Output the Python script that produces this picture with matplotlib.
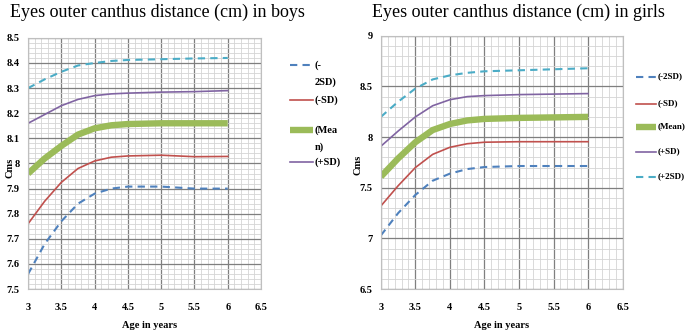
import numpy as np
import matplotlib
matplotlib.use("Agg")
import matplotlib.pyplot as plt
from matplotlib.lines import Line2D
from matplotlib.ticker import MultipleLocator

plt.rcParams['font.family'] = ['Liberation Serif', 'DejaVu Serif']

# ---------------- data ----------------
age = [3, 3.25, 3.5, 3.75, 4, 4.25, 4.5, 5, 5.5, 6]

boys_p2sd = [8.30, 8.335, 8.365, 8.39, 8.40, 8.408, 8.412, 8.415, 8.418, 8.42]
boys_psd = [8.16, 8.195, 8.23, 8.255, 8.27, 8.277, 8.28, 8.284, 8.286, 8.29]
boys_mean = [7.96, 8.02, 8.07, 8.115, 8.14, 8.152, 8.157, 8.16, 8.16, 8.16]
boys_msd = [7.76, 7.85, 7.925, 7.98, 8.01, 8.025, 8.03, 8.033, 8.027, 8.028]
boys_m2sd = [7.56, 7.68, 7.77, 7.84, 7.88, 7.90, 7.908, 7.908, 7.90, 7.90]

girls_p2sd = [8.20, 8.35, 8.48, 8.57, 8.61, 8.635, 8.65, 8.66, 8.67, 8.68]
girls_psd = [7.91, 8.06, 8.20, 8.31, 8.37, 8.40, 8.41, 8.42, 8.425, 8.43]
girls_mean = [7.61, 7.79, 7.95, 8.07, 8.13, 8.165, 8.18, 8.19, 8.195, 8.20]
girls_msd = [7.32, 7.52, 7.70, 7.83, 7.90, 7.935, 7.95, 7.955, 7.955, 7.955]
girls_m2sd = [7.03, 7.25, 7.43, 7.57, 7.64, 7.685, 7.705, 7.715, 7.715, 7.715]

boys_labels = ["(-\n2SD)", "(-SD)", "(Mea\nn)", "(+SD)"]
girls_labels = ["(-2SD)", "(-SD)", "(Mean)", "(+SD)", "(+2SD)"]

# colours / styles
C_M2 = "#4F81BD"
C_M1 = "#C0504D"
C_MEAN = "#9BBB59"
C_P1 = "#8064A2"
C_P2 = "#4BACC6"
styles = {
    "m2": dict(color=C_M2, lw=1.5, ls=(0, (3.5, 2.5))),
    "m1": dict(color=C_M1, lw=1.2, ls="-"),
    "mean": dict(color=C_MEAN, lw=4.6, ls="-", solid_capstyle="butt"),
    "p1": dict(color=C_P1, lw=1.2, ls="-"),
    "p2": dict(color=C_P2, lw=1.5, ls=(0, (3.5, 2.5))),
}

fig = plt.figure(figsize=(6.85, 3.35), dpi=100)


def setup(ax, ylo, yhi, ymaj, ymin):
    ax.set_xlim(3, 6.5)
    ax.set_ylim(ylo, yhi)
    ax.xaxis.set_major_locator(MultipleLocator(0.5))
    ax.xaxis.set_minor_locator(MultipleLocator(0.1))
    ax.yaxis.set_major_locator(MultipleLocator(ymaj))
    ax.yaxis.set_minor_locator(MultipleLocator(ymin))
    ax.grid(which="minor", color="#d4d4d4", lw=0.6)
    ax.grid(which="major", color="#7f7f7f", lw=0.9)
    ax.set_axisbelow(True)
    for s in ax.spines.values():
        s.set_color("#bfbfbf")
        s.set_linewidth(0.8)
    ax.tick_params(axis="x", which="both", length=0, labelsize=7.5, pad=10)
    ax.tick_params(axis="y", which="both", length=0, labelsize=7.5, pad=6)


def fmt(v):
    s = ("%.1f" % v).rstrip("0").rstrip(".")
    return s


# ---------------- boys ----------------
ax1 = fig.add_axes([0.041, 0.137, 0.340, 0.750])
ax1.plot(age, boys_p2sd, **styles["p2"])
ax1.plot(age, boys_psd, **styles["p1"])
ax1.plot(age, boys_mean, **styles["mean"])
ax1.plot(age, boys_msd, **styles["m1"])
ax1.plot(age, boys_m2sd, **styles["m2"])
setup(ax1, 7.5, 8.5, 0.1, 0.02)
ax1.set_xticks(np.arange(3, 6.51, 0.5))
ax1.set_xticklabels([fmt(v) for v in np.arange(3, 6.51, 0.5)], fontweight="bold")
ax1.set_yticks(np.arange(7.5, 8.51, 0.1))
ax1.set_yticklabels([fmt(v) for v in np.arange(7.5, 8.51, 0.1)], fontweight="bold")

# ---------------- girls ----------------
ax2 = fig.add_axes([0.556, 0.137, 0.353, 0.756])
ax2.plot(age, girls_p2sd, **styles["p2"])
ax2.plot(age, girls_psd, **styles["p1"])
ax2.plot(age, girls_mean, **styles["mean"])
ax2.plot(age, girls_msd, **styles["m1"])
ax2.plot(age, girls_m2sd, **styles["m2"])
setup(ax2, 6.5, 9, 0.5, 0.1)
ax2.set_xticks(np.arange(3, 6.51, 0.5))
ax2.set_xticklabels([fmt(v) for v in np.arange(3, 6.51, 0.5)], fontweight="bold")
ax2.set_yticks(np.arange(6.5, 9.01, 0.5))
ax2.set_yticklabels([fmt(v) for v in np.arange(6.5, 9.01, 0.5)], fontweight="bold")

# titles and axis labels
fig.text(0.015, 0.962, "Eyes outer canthus distance (cm) in boys", fontsize=13, va="center", ha="left")
fig.text(0.543, 0.962, "Eyes outer canthus distance (cm) in girls", fontsize=13, va="center", ha="left")
for x in (150, 502):
    fig.text(x / 685, 1 - 326 / 335, "Age in years", fontsize=7.5, fontweight="bold",
             ha="center", va="center")
fig.text(10 / 685, 1 - 168 / 335, "Cms", fontsize=7.5, fontweight="bold", rotation=90,
         ha="center", va="center")
fig.text(358 / 685, 1 - 165 / 335, "Cms", fontsize=7.5, fontweight="bold", rotation=90,
         ha="center", va="center")


# legends drawn by hand to match the wrapped entries
def legend_entry(x0, x1, y, key, label, size):
    st = dict(styles[key])
    lw = st.pop("lw")
    fig.add_artist(Line2D([x0 / 685, x1 / 685], [1 - y / 335, 1 - y / 335],
                          linewidth=lw, transform=fig.transFigure, **st))
    fig.text((x1 + 1.5) / 685, 1 - (y - 5) / 335, label, fontsize=size, fontweight="bold",
             ha="left", va="top", linespacing=2.0)


for y, key, lab in zip([65, 100, 130, 162], ["m2", "m1", "mean", "p1"], boys_labels):
    legend_entry(290, 313, y, key, lab, 7.5)
for y, key, lab in zip([77, 104, 127, 152, 177], ["m2", "m1", "mean", "p1", "p2"], girls_labels):
    legend_entry(636, 656, y, key, lab, 6.5)

fig.savefig("out.png", dpi=100)
